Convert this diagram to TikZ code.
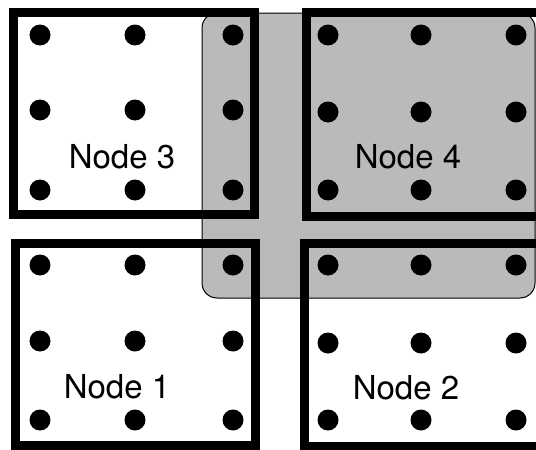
\documentclass[tikz,border=0pt]{standalone}
\usepackage{fontspec}
\setmainfont{TeX Gyre Heros}
\begin{document}
\begin{tikzpicture}[x=1pt,y=-1pt,
  frame/.style={draw=black,line width=9pt},
  shade/.style={fill=black!27,draw=black,line width=1pt,rounded corners=15pt},
  dot/.style={circle,fill=black,inner sep=0pt,minimum size=21pt},
  lbl/.style={font=\fontsize{33}{36}\selectfont,inner sep=0pt,text=black}]
\useasboundingbox (0,0) rectangle (536,450);
\clip (0,0) rectangle (536,450);
\fill[white] (0,0) rectangle (536,450);
% shaded region
\path[shade] (202,13) rectangle (535,298);
% node frames
\draw[frame] (13,12) rectangle (254,214);
\draw[frame] (306,12) rectangle (545,216);
\draw[frame] (15,243) rectangle (255,445);
\draw[frame] (304,243) rectangle (545,446);
% dots
\foreach \i/\x in {1/40,2/135,3/233}{
  \foreach \j/\y in {1/35,2/110,3/190}{
    \node[dot] (a\i\j) at (\x,\y) {};
  }
  \foreach \j/\y in {1/265,2/341,3/420}{
    \node[dot] (c\i\j) at (\x,\y) {};
  }
}
\foreach \i/\x in {1/328,2/421,3/516}{
  \foreach \j/\y in {1/35,2/112,3/190}{
    \node[dot] (b\i\j) at (\x,\y) {};
  }
  \foreach \j/\y in {1/265,2/343,3/420}{
    \node[dot] (d\i\j) at (\x,\y) {};
  }
}
% labels
\node[lbl] (n3) at (122,157) {Node 3};
\node[lbl] (n4) at (408,157) {Node 4};
\node[lbl] (n1) at (117,387) {Node 1};
\node[lbl] (n2) at (406,388) {Node 2};
\end{tikzpicture}
\end{document}
